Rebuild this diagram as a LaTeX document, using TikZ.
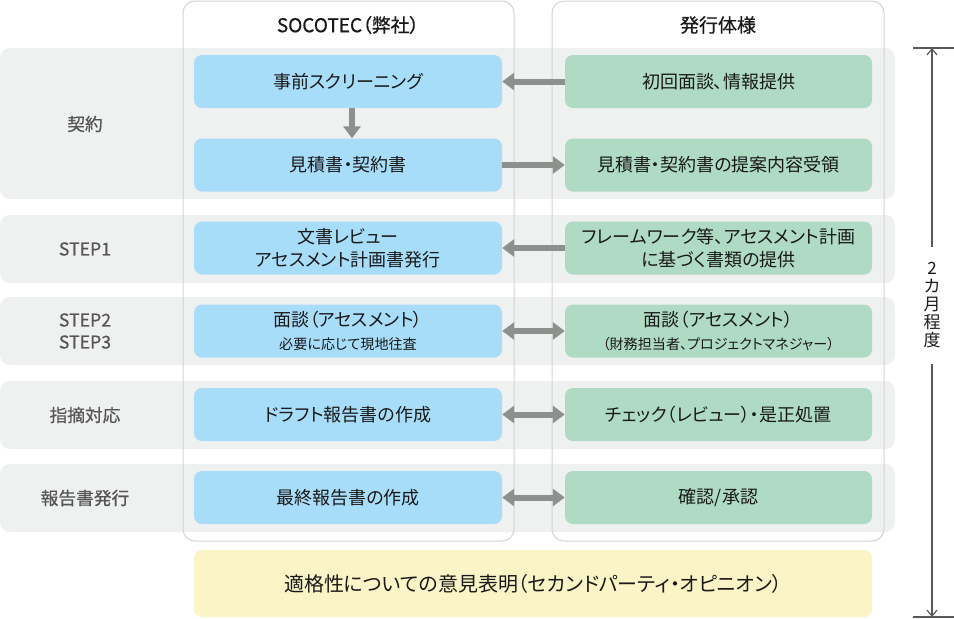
\documentclass[tikz,border=0pt]{standalone}
\usepackage{fontspec}
\setmainfont{Noto Sans CJK JP}[RawFeature=+palt]
\newfontfamily\midfont{Noto Sans CJK JP}[RawFeature=+palt, FakeBold=0.6]
\usetikzlibrary{arrows.meta, positioning, backgrounds}

\definecolor{socoblue}{HTML}{A8DDF9}
\definecolor{issuergreen}{HTML}{AFDAC3}
\definecolor{opinionyellow}{HTML}{FBF4C6}
\definecolor{bandgray}{HTML}{EFF0F0}
\definecolor{arrowgray}{HTML}{8E908E}
\definecolor{framegray}{HTML}{D4D4D4}
\definecolor{labelgray}{HTML}{555555}

\newcommand{\boxfont}{\fontsize{18}{23}\selectfont}
\newcommand{\smallboxfont}{\fontsize{14.1}{16}\selectfont}
\newcommand{\opinionfont}{\fontsize{20}{24}\selectfont}
\newcommand{\headfont}{\midfont\fontsize{19}{20}\selectfont}
\newcommand{\rowfont}{\midfont\fontsize{17.7}{22}\selectfont}
\newcommand{\spanfont}{\fontsize{17}{18}\selectfont}

\begin{document}
\begin{tikzpicture}[
    x=1pt, y=-1pt,
    % Styles
    row band/.style={fill=bandgray, rounded corners=10pt, minimum width=895pt, inner sep=0pt},
    column frame/.style={draw=framegray, line width=1pt, rounded corners=12pt, minimum width=331pt, minimum height=540pt, inner sep=0pt},
    head label/.style={font=\headfont, text=black!90},
    row label/.style={font=\rowfont, text=labelgray, align=center},
    soco node/.style={fill=socoblue, rounded corners=8pt, minimum width=308pt, minimum height=53pt, align=center, font=\boxfont, text=black!90, inner sep=0pt},
    issuer node/.style={soco node, fill=issuergreen, minimum width=307pt},
    opinion node/.style={soco node, fill=opinionyellow, minimum width=678pt, minimum height=67pt, font=\opinionfont},
    arrow/.style={draw=arrowgray, line width=6pt, -{Triangle[length=12pt, width=17pt]}},
    dbl arrow/.style={draw=arrowgray, line width=6pt, {Triangle[length=12pt, width=17pt]}-{Triangle[length=12pt, width=17pt]}},
    span line/.style={draw=black!65, line width=1.2pt},
    span arrow/.style={span line, -{Straight Barb[length=6pt, width=10pt]}}
]
\useasboundingbox (0,0) rectangle (954,619);

% Column frames
\node[column frame] (soco) at (348.5,271) {};
\node[column frame, minimum width=332pt] (issuer) at (718,271) {};
\node[head label] (soco head) at (348,25) {SOCOTEC（弊社）};
\node[head label] (issuer head) at (718,25) {発行体様};

% Row labels
\node[row label] (lab1) at (85,124) {契約};
\node[row label] (lab2) at (85,249) {STEP1};
\node[row label] (lab3) at (85,331) {STEP2\\STEP3};
\node[row label] (lab4) at (85,415) {指摘対応};
\node[row label] (lab5) at (85,498) {報告書発行};

% SOCOTEC side
\node[soco node] (pre) at (348,81.5) {事前スクリーニング};
\node[soco node] (est) at (348,165) {見積書・契約書};
\node[soco node] (doc) at (348,248) {文書レビュー\\アセスメント計画書発行};
\node[soco node] (intv) at (348,331) {面談（アセスメント）\\{\smallboxfont 必要に応じて現地往査}};
\node[soco node] (draft) at (348,414.5) {ドラフト報告書の作成};
\node[soco node] (final) at (348,497.5) {最終報告書の作成};

% Issuer side
\node[issuer node] (info) at (718.5,81.5) {初回面談、情報提供};
\node[issuer node] (recv) at (718.5,165) {見積書・契約書の提案内容受領};
\node[issuer node] (docs) at (718.5,248) {フレームワーク等、アセスメント計画\\に基づく書類の提供};
\node[issuer node] (intv2) at (718.5,331) {面談（アセスメント）\\{\smallboxfont （財務担当者、プロジェクトマネジャー）}};
\node[issuer node] (check) at (718.5,414.5) {チェック（レビュー）・是正処置};
\node[issuer node] (appr) at (718.5,497.5) {確認/承認};

% Opinion
\node[opinion node] (opinion) at (533,583.5) {適格性についての意見表明（セカンドパーティ・オピニオン）};

% Connections
\draw[arrow] (info.west) -- (pre.east);
\draw[arrow] ([xshift=4pt]pre.south) -- ([xshift=4pt]est.north);
\draw[arrow] (est.east) -- (recv.west);
\draw[arrow] (docs.west) -- (doc.east);
\draw[dbl arrow] (intv.east) -- (intv2.west);
\draw[dbl arrow] (draft.east) -- (check.west);
\draw[dbl arrow] (final.east) -- (appr.west);

% Period
\coordinate (span top) at (932,48);
\coordinate (span bottom) at (932,617);
\coordinate (tick tl) at (913,48);
\coordinate (tick tr) at (954,48);
\coordinate (tick bl) at (913,617);
\coordinate (tick br) at (954,617);
\node[font=\spanfont, text=black!90, align=center, inner xsep=2pt, inner ysep=15pt] (span label) at (932,305.5) {2\\カ\\月\\程\\度};
\draw[span line] (tick tl) -- (tick tr);
\draw[span line] (tick bl) -- (tick br);
\draw[span arrow] (span label) -- (span top);
\draw[span arrow] (span label) -- (span bottom);

% Background bands
\begin{scope}[on background layer]
    \node[row band, minimum height=151pt] (band1) at (447.5,123.5) {};
    \node[row band, minimum height=68pt] (band2) at (447.5,249) {};
    \node[row band, minimum height=68pt] (band3) at (447.5,331) {};
    \node[row band, minimum height=68pt] (band4) at (447.5,415) {};
    \node[row band, minimum height=68pt] (band5) at (447.5,498) {};
\end{scope}

\end{tikzpicture}
\end{document}
